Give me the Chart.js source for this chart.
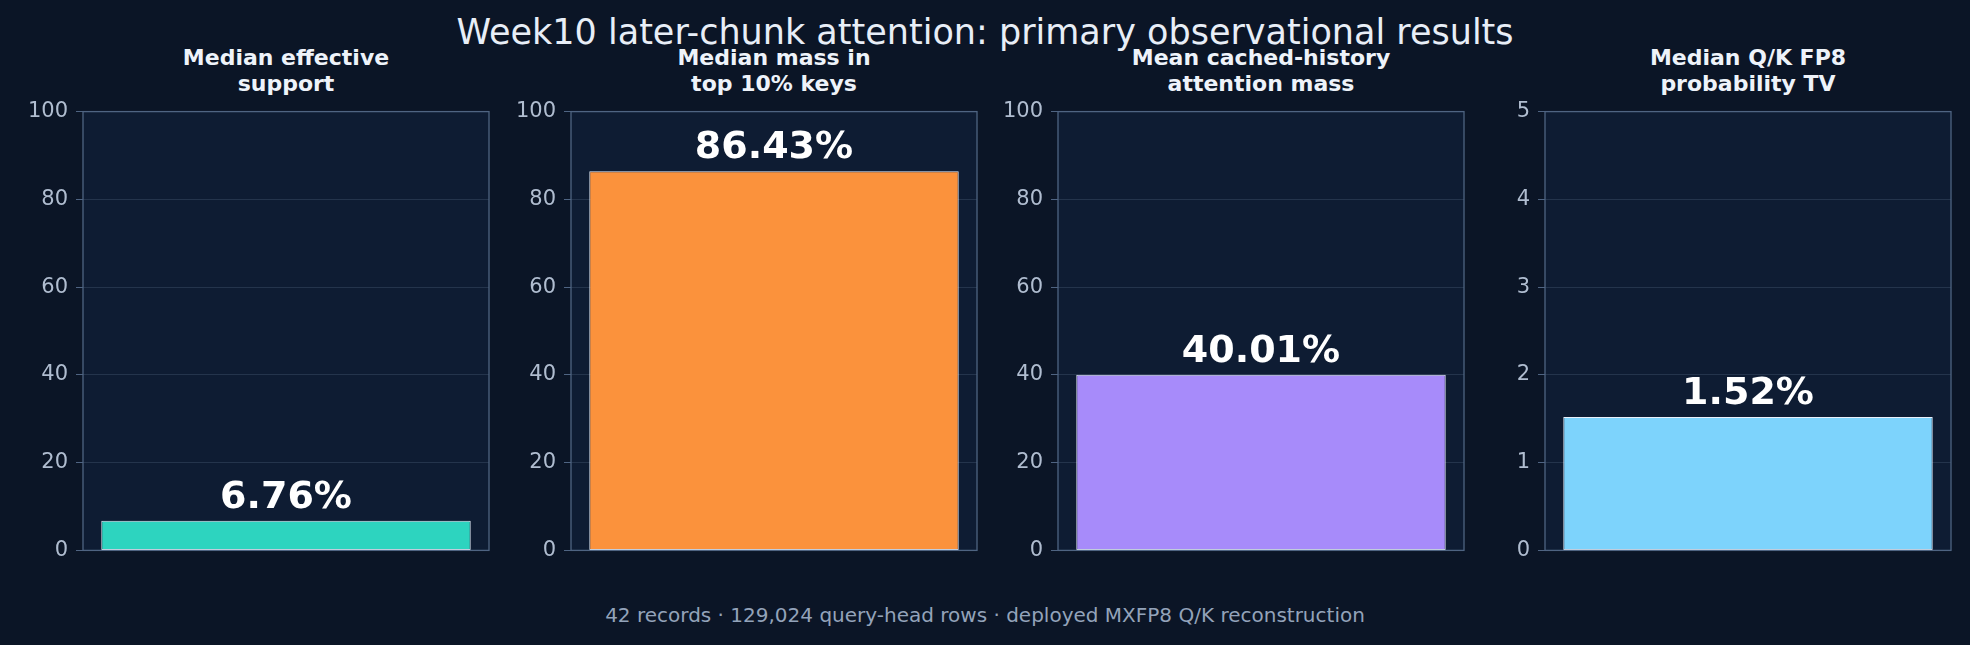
<!DOCTYPE html>
<html><head><meta charset="utf-8">
<script src="https://cdn.jsdelivr.net/npm/chart.js@4"></script>
<style>
body{margin:0;width:1970px;height:645px;background:#0b1526;position:relative;overflow:hidden;font-family:"DejaVu Sans",sans-serif;color:#e8eef7}
.t{position:absolute;text-align:center;white-space:nowrap}
canvas{position:absolute}
</style></head><body>
<div class="t" style="left:0;width:1970px;top:12px;font-size:35px;color:#e8eef7">Week10 later-chunk attention: primary observational results</div>
<div class="t" style="left:0;width:1970px;top:603px;font-size:20px;color:#93a3ba">42 records · 129,024 query-head rows · deployed MXFP8 Q/K reconstruction</div>
<script>
const panelTitles = [["Median effective","support"],["Median mass in","top 10% keys"],["Mean cached-history","attention mass"],["Median Q/K FP8","probability TV"]];
const panelValues = [6.76, 86.43, 40.01, 1.52];
const panelMax = [100, 100, 100, 5];
const panelStep = [20, 20, 20, 1];
const panelColors = ["#2dd4bf", "#fb923c", "#a78bfa", "#7dd3fc"];
const plotLefts = [83, 571, 1058, 1545];
const plotW = 406, plotTop = 109, plotH = 444, axW = 62, pad = 18;

const frame = {id:'frame',
  beforeDraw(c){const a=c.chartArea,x=c.ctx;x.save();x.fillStyle='#0e1c33';x.fillRect(a.left,a.top,a.right-a.left,a.bottom-a.top);x.restore();},
  afterDraw(c){const a=c.chartArea,x=c.ctx;x.save();x.strokeStyle='#4f6482';x.lineWidth=1.3;x.strokeRect(a.left,a.top,a.right-a.left,a.bottom-a.top);
    const m=c.getDatasetMeta(0).data[0];const v=c.data.datasets[0].data[0];
    x.fillStyle='#ffffff';x.font='bold 38px "DejaVu Sans"';x.textAlign='center';x.textBaseline='bottom';
    x.fillText(v.toFixed(2)+'%',m.x,m.y-4);x.restore();}};

panelValues.forEach((v,i)=>{
  const t=document.createElement('div');t.className='t';
  t.style.cssText=`left:${plotLefts[i]}px;width:${plotW}px;top:45px;font-size:22px;font-weight:bold;line-height:26px;color:#eef3fa`;
  t.innerHTML=panelTitles[i].join('<br>');document.body.appendChild(t);
  const cv=document.createElement('canvas');
  const W=plotW+axW+4,H=plotH+2*pad;
  cv.style.left=(plotLefts[i]-axW)+'px';cv.style.top=(plotTop-pad)+'px';
  cv.style.width=W+'px';cv.style.height=H+'px';cv.width=W;cv.height=H;
  document.body.appendChild(cv);
  new Chart(cv,{type:'bar',
    data:{labels:[''],datasets:[{data:[v],backgroundColor:panelColors[i],borderColor:'#e8f0fb',borderWidth:1,borderSkipped:false,categoryPercentage:0.91,barPercentage:1}]},
    options:{responsive:false,animation:false,devicePixelRatio:1,
      layout:{padding:{top:pad,bottom:pad,right:4,left:0}},
      plugins:{legend:{display:false},tooltip:{enabled:false}},
      scales:{x:{display:false},
        y:{min:0,max:panelMax[i],ticks:{stepSize:panelStep[i],color:'#b0bdd0',font:{size:21,family:'DejaVu Sans'},padding:8},
          grid:{color:'rgba(120,140,170,0.22)',tickColor:'#4f6482',tickLength:7},border:{display:false},
          afterFit(s){s.width=axW;}}}},
    plugins:[frame]});
});
</script>
</body></html>
